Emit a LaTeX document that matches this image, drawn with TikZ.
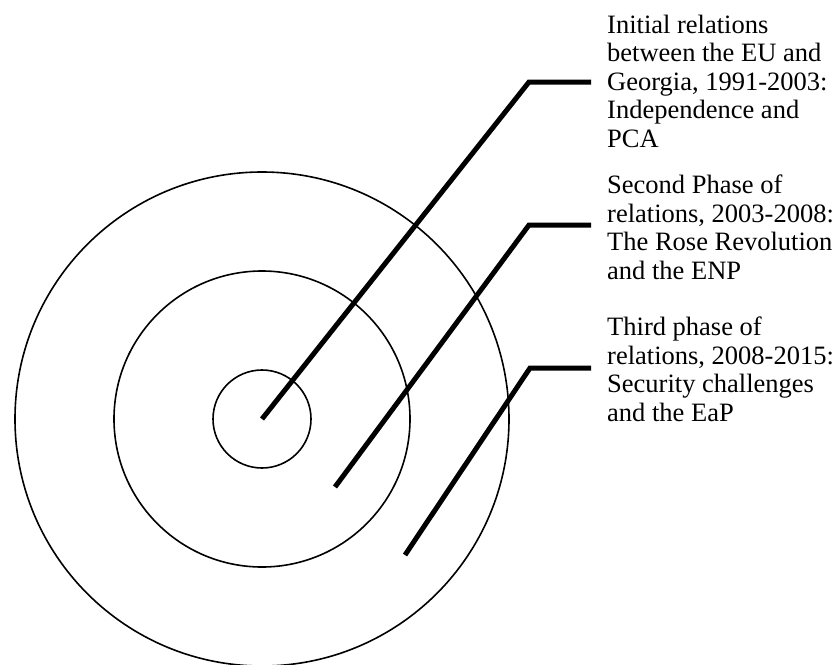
\documentclass[tikz,border=0pt]{standalone}
\usepackage{fontspec}
\setmainfont{Liberation Serif}
\usetikzlibrary{positioning}

\begin{document}
\begin{tikzpicture}[x=1pt,y=-1pt]
                        \tikzstyle{ring}=[circle, draw, line width=1.6pt, inner sep=0pt]
                        \tikzstyle{leader}=[line width=5pt]
                        \tikzstyle{phase}=[anchor=north west, inner sep=0pt, align=left,
                            font=\fontsize{26.5}{28.4}\selectfont]
                        \useasboundingbox (0,0) rectangle (838,664);
                        \node[ring, minimum size=494pt] (outer) at (262,419) {};
                        \node[ring, minimum size=296pt] (middle) at (262,419) {};
                        \node[ring, minimum size=98pt] (core) at (262,419) {};
                        \coordinate (start2) at (335,487);
                        \coordinate (start3) at (405,555);
                        \coordinate (bend1) at (529,82);
                        \coordinate (bend2) at (529,225);
                        \coordinate (bend3) at (530,368);
                        \coordinate (end1) at (591,82);
                        \coordinate (end2) at (591,225);
                        \coordinate (end3) at (591,368);
                        \node[phase] (phase1) at (607,15) {Initial relations\\between the EU and\\Georgia, 1991-2003:\\Independence and\\PCA};
                        \node[phase] (phase2) at (607,175) {Second Phase of\\relations, 2003-2008:\\The Rose Revolution\\and the ENP};
                        \node[phase] (phase3) at (607,317) {Third phase of\\relations, 2008-2015:\\Security challenges\\and the EaP};
                        \draw[leader] (core.center) -- (bend1) -- (end1);
                        \draw[leader] (start2) -- (bend2) -- (end2);
                        \draw[leader] (start3) -- (bend3) -- (end3);
                    \end{tikzpicture}
\end{document}
